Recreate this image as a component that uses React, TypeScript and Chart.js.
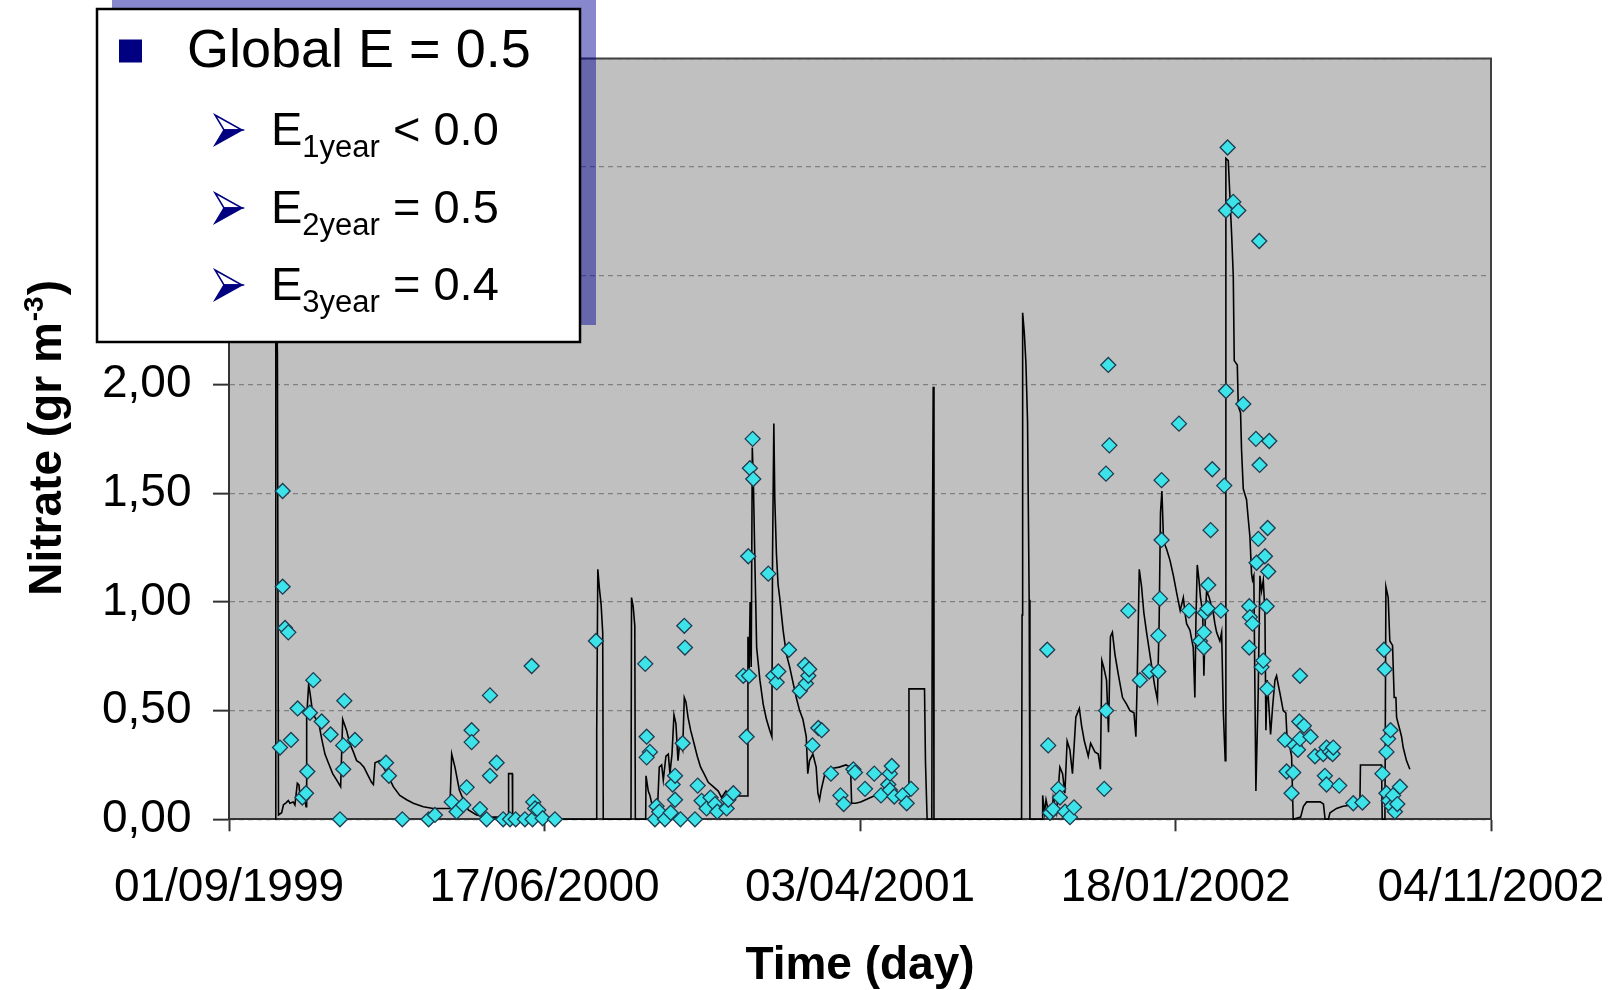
import React, { useEffect, useRef } from 'react';
import { Chart, registerables } from 'chart.js';

Chart.register(...registerables);

// ---------- DATA ----------
// x = days since 01/09/1999, ticks every 290 days
const xTickLabels = ['01/09/1999', '17/06/2000', '03/04/2001', '18/01/2002', '04/11/2002'];

// simulated nitrate (line)
const simDays = [
  42.5, 43, 44.5, 45.5, 48.4, 50, 52.4, 54.5, 56, 59, 60.6, 62.8, 64.3, 65.3, 66.8, 68.3, 70.8, 71.4, 73.2, 74.5,
  76.9, 80, 83, 85.2, 88.2, 91.3, 95.3, 99, 102.6, 104.5, 108, 111, 114.3, 117.3, 120.4, 124, 128, 131, 132.7, 134.2,
  138.8, 141.8, 146.4, 151, 157, 163.3, 169.4, 178.6, 187.8, 203, 204.7, 207.7, 211.7, 215.4, 220, 227.6, 236.8, 256.5, 257, 260.4,
  260.7, 279.7, 289, 337.5, 338, 339, 340.5, 342, 343.5, 344, 369.5, 370, 371.5, 373, 373.5, 383, 383.3, 385.4, 386.9, 390,
  393.7, 395.5, 397.7, 399.2, 401.6, 403.8, 405.3, 407.2, 409, 410.8, 412.7, 414.5, 417, 418.5, 420, 421.9, 424.3, 427.4, 430.4, 433.5,
  436.6, 440.5, 445.1, 449.7, 452.8, 456.8, 461, 466.6, 476.5, 477, 478, 479, 480, 481, 482, 483.4, 485, 488, 491, 494,
  497, 499, 499.6, 500.8, 501.7, 503.2, 504.7, 506.2, 509.3, 512.3, 515.4, 518.4, 521.4, 524.5, 527.5, 530.6, 532, 533.6, 536.7, 539.7,
  541.3, 542.8, 544.3, 547.3, 550.4, 555, 561, 567, 571.3, 572.3, 576, 580.6, 585.2, 589.7, 594.3, 599, 603.5, 608, 615.7, 624.7,
  625, 639.3, 640.2, 641.7, 646, 646.5, 647.3, 648, 728.5, 729, 729.5, 731, 732.5, 734, 735.5, 736.2, 747.5, 747.9, 749.5, 751,
  753, 756, 757.6, 760.7, 763.7, 766.2, 768.3, 770.4, 772.9, 775.3, 778.4, 781.6, 783.7, 786.2, 789.8, 792, 795.9, 799, 801, 802.3,
  804, 806.6, 808.4, 810.2, 812, 814.3, 817.3, 821.3, 825, 828.1, 831.8, 833.6, 834.8, 836.7, 838.8, 840.9, 843.4, 845.8, 848.2, 851,
  853.4, 855, 856.2, 857.5, 859, 862, 865, 868.1, 871.1, 874.3, 877.2, 878.7, 880.2, 883.3, 886.3, 887.8, 888.8, 890, 891.6, 893,
  895, 896.1, 897.4, 898.6, 901, 903, 904.7, 906.2, 907.8, 910.8, 912.4, 913.9, 915.7, 916.3, 918.5, 921.6, 923.1, 924, 926.8, 927.7,
  929.8, 930.7, 932.3, 935.3, 936.9, 938.4, 939.9, 940.8, 942, 943.9, 946, 947.6, 949.1, 950.7, 952.2, 953.1, 954.3, 956.2, 957.4, 959.3,
  961.4, 962.9, 964.4, 966, 967.5, 969, 971.4, 972.7, 975.2, 976.7, 978.2, 985, 987.6, 990.6, 1003, 1006, 1007.5, 1010.5, 1012, 1015,
  1018, 1024, 1030.3, 1039.5, 1040, 1059.4, 1060, 1062.5, 1063.4, 1065.5, 1067, 1069.5, 1071, 1072.6, 1073.2, 1074.7, 1076.3, 1077.8, 1079.3, 1082.3,
  1085.4,
];
const simValues = [
  0, 2.6, 2.14, 0.02, 0.03, 0.066, 0.076, 0.086, 0.074, 0.08, 0.066, 0.166, 0.158, 0.104, 0.112, 0.135, 0.058, 0.47, 0.62, 0.58,
  0.49, 0.46, 0.43, 0.37, 0.3, 0.26, 0.21, 0.18, 0.15, 0.46, 0.41, 0.35, 0.31, 0.27, 0.26, 0.24, 0.2, 0.17, 0.16, 0.26,
  0.27, 0.24, 0.2, 0.15, 0.11, 0.09, 0.074, 0.058, 0.05, 0.05, 0.3, 0.24, 0.135, 0.09, 0.043, 0.02, 0.01, 0.01, 0.21, 0.21,
  0.01, 0.005, 0, 0, 0.4, 1.15, 1.06, 0.99, 0.86, 0, 0, 1.02, 0.98, 0.89, 0, 0, 0.2, 0.13, 0.11, 0.04,
  0.03, 0.24, 0.25, 0.18, 0.29, 0.3, 0.21, 0.3, 0.48, 0.44, 0.27, 0.36, 0.32, 0.56, 0.54, 0.47, 0.41, 0.35, 0.29, 0.24,
  0.21, 0.17, 0.15, 0.13, 0.1, 0.13, 0.11, 0.107, 0.107, 0.84, 0.65, 1.0, 0.7, 1.71, 1.55, 1.18, 0.79, 0.64, 0.53, 0.46,
  0.41, 0.38, 1.21, 1.82, 1.47, 1.22, 1.08, 1.02, 0.87, 0.76, 0.7, 0.63, 0.56, 0.5, 0.46, 0.38, 0.21, 0.27, 0.3, 0.24,
  0.12, 0.09, 0.135, 0.2, 0.23, 0.235, 0.24, 0.25, 0.24, 0.074, 0.074, 0.08, 0.09, 0.1, 0.11, 0.12, 0.127, 0.135, 0.12, 0.12,
  0.6, 0.6, 0.26, 0, 0, 1.21, 1.99, 0, 0, 0.94, 2.33, 2.24, 2.1, 1.83, 1.01, 0, 0, 0.11, 0.03, 0.09,
  0.04, 0.01, 0.1, 0.03, 0.24, 0.21, 0.12, 0.36, 0.32, 0.21, 0.47, 0.51, 0.43, 0.36, 0.29, 0.35, 0.31, 0.3, 0.23, 0.73,
  0.7, 0.64, 0.4, 0.84, 0.86, 0.76, 0.67, 0.56, 0.53, 0.5, 0.49, 0.38, 0.64, 1.15, 1.07, 0.95, 0.86, 0.78, 0.7, 0.61,
  0.55, 0.92, 1.41, 1.51, 1.28, 1.24, 1.19, 1.12, 1.04, 0.96, 1.02, 0.95, 0.9, 0.87, 0.79, 0.56, 0.92, 1.17, 1.1, 1.02,
  0.95, 0.66, 0.93, 1.05, 1.02, 0.98, 0.95, 0.9, 0.86, 0.82, 0.86, 0.5, 0.27, 3.04, 3.03, 2.69, 2.5, 2.11, 2.09, 1.9,
  1.87, 1.7, 1.52, 1.47, 1.38, 1.3, 1.13, 1.1, 1.12, 0.13, 0.58, 1.12, 1.05, 1.1, 0.95, 0.41, 0.64, 0.49, 0.39, 0.52,
  0.64, 0.66, 0.62, 0.58, 0.54, 0.5, 0.49, 0.36, 0.33, 0.29, 0, 0.01, 0.06, 0.08, 0.08, 0.07, 0, 0, 0.03, 0.04,
  0.05, 0.06, 0.065, 0.07, 0.25, 0.25, 0, 0, 1.07, 1.02, 0.82, 0.8, 0.56, 0.56, 0.47, 0.44, 0.41, 0.38, 0.33, 0.27,
  0.23,
];

// observed nitrate (diamonds)
const obsDays = [
  46.9, 49.3, 49.3, 51.5, 54.5, 57, 63.1, 67.4, 70.8, 72, 74.4, 77.5, 85.2, 93.4, 102, 105, 105, 106, 115.8, 144.3,
  147, 159.3, 183.5, 189.3, 204.7, 209.2, 215.4, 218.4, 223, 223, 230.7, 236.8, 239.9, 239.9, 246, 252, 258.3, 263.5, 272, 278.2,
  279, 279.7, 281.3, 284.3, 288.3, 299.6, 337.3,
  382.6, 383.9, 386.9, 383.9, 391.5, 393, 395.5, 400.7, 406, 407.8, 410, 410, 415, 417, 418.5, 419.1, 428.3, 430.8, 434.4, 439,
  442.6, 446.7, 448.8, 457.4, 459, 463.6, 472.7, 475.8, 478, 477.3, 478.8, 481.3, 481.9, 495.7, 500.3, 503.4, 504.9, 514.7, 524.7, 529.4,
  530.3, 532.5, 533.3, 536.3, 541.7, 544.8, 553.3, 562, 565, 573.9, 575.4, 584.6, 593.1, 599.3, 606, 607.5, 607.5, 609.2, 611.5, 619.2,
  622.9, 626.9,
  752.1, 753, 754.6, 757.6, 762.3, 763.8, 768.4, 773, 776.7, 804.5, 806.1, 806.2, 808.2, 809.2, 826.6, 837.3, 845.9, 854.2, 854.2, 855.7,
  857.2, 857.2, 873.2, 882.4, 892.5, 896.1, 896.1, 897, 899.5, 900.1, 902.3, 903.8, 911.7, 914.8, 916.4, 916.4, 917.9, 923.1, 927.7, 932.3,
  937.8, 937.8, 938.4, 940.8, 943.9, 944.5, 946.1, 947, 947.3, 949.1, 950.7, 952.2, 953.8, 954.3, 954.7, 955.2, 956.2, 970.6, 972.1, 976.7,
  978.2, 979.5, 982.6, 983.8, 984.4, 984.4, 988, 994.1, 998.2, 1005.8, 1007.3, 1008.8, 1008.8, 1012, 1014.4, 1015, 1020.5, 1033.4, 1041.8, 1060.2,
  1061.6, 1062.5, 1063.9, 1063.9, 1065.4, 1066, 1067.7, 1068.7, 1070, 1071.7, 1073.9, 1076.3,
];
const obsValues = [
  0.33, 1.51, 1.07, 0.88, 0.86, 0.365, 0.51, 0.1, 0.12, 0.22, 0.49, 0.64, 0.45, 0.39, 0, 0.34, 0.23, 0.545, 0.365, 0.26,
  0.2, 0, 0, 0.02, 0.08, 0.035, 0.066, 0.147, 0.41, 0.355, 0.047, 0, 0.57, 0.2, 0.26, 0, 0, 0, 0, 0.705,
  0, 0.08, 0.05, 0.043, 0.005, 0, 0.82,
  0.715, 0.38, 0.31, 0.285, 0, 0.06, 0.035, 0, 0.03, 0.16, 0.2, 0.09, 0, 0.35, 0.89, 0.79, 0, 0.155, 0.085, 0.05,
  0.1, 0.07, 0.035, 0.05, 0.09, 0.12, 0.66, 0.38, 0.66, 1.21, 1.615, 1.75, 1.565, 1.13, 0.66, 0.63, 0.68, 0.78, 0.59, 0.71,
  0.625, 0.66, 0.69, 0.34, 0.42, 0.41, 0.21, 0.11, 0.07, 0.23, 0.215, 0.14, 0.21, 0.11, 0.16, 0.21, 0.135, 0.245, 0.105, 0.11,
  0.074, 0.14,
  0.78, 0.34, 0.03, 0.046, 0.14, 0.1, 0.035, 0.01, 0.055, 0.14, 1.59, 0.5, 2.09, 1.72, 0.96, 0.64, 0.68, 0.68, 0.845, 1.015,
  1.285, 1.56, 1.82, 0.96, 0.82, 0.86, 0.79, 0.95, 0.97, 1.078, 1.33, 1.61, 0.96, 1.535, 1.97, 2.8, 3.09, 2.84, 2.8, 1.91,
  0.98, 0.79, 0.93, 0.9, 1.75, 1.18, 1.29, 2.66, 1.63, 0.7, 0.73, 1.21, 0.98, 0.6, 1.34, 1.14, 1.74, 0.365, 0.22, 0.12,
  0.215, 0.34, 0.32, 0.45, 0.37, 0.66, 0.43, 0.38, 0.29, 0.3, 0.2, 0.33, 0.16, 0.31, 0.3, 0.33, 0.155, 0.074, 0.077, 0.21,
  0.78, 0.69, 0.31, 0.12, 0.37, 0.085, 0.41, 0.06, 0.11, 0.035, 0.07, 0.15,
];

// text
const xTitle = 'Time (day)';
const yTitleMain = 'Nitrate (gr m';
const yTitleSup = '-3';
const yTitleEnd = ')';
const boxHeadline = 'Global E = 0.5';
const boxSubscripts = ['1year', '2year', '3year'];
const boxValues = [' < 0.0', ' = 0.5', ' = 0.4'];

const FONT = "'Liberation Sans', Arial, sans-serif";

export default function App() {
  const ref = useRef<HTMLCanvasElement | null>(null);

  useEffect(() => {
    const canvas = ref.current;
    if (!canvas) return;

    const decor = {
      id: 'decor',
      beforeDraw(chart: any) {
        const { ctx, chartArea: a } = chart;
        ctx.save();
        ctx.fillStyle = '#c0c0c0';
        ctx.fillRect(a.left, a.top, a.right - a.left, a.bottom - a.top);
        ctx.restore();
      },
      beforeDatasetsDraw(chart: any) {
        const { ctx, chartArea: a } = chart;
        ctx.save();
        ctx.strokeStyle = '#404040';
        ctx.lineWidth = 2;
        ctx.beginPath();
        ctx.moveTo(a.left, a.top);
        ctx.lineTo(a.right, a.top);
        ctx.lineTo(a.right, a.bottom);
        ctx.stroke();
        ctx.restore();
      },
      afterDraw(chart: any) {
        const { ctx, chartArea: a } = chart;
        ctx.save();
        ctx.fillStyle = '#000';
        ctx.textBaseline = 'alphabetic';

        // x title
        ctx.font = `bold 46px ${FONT}`;
        ctx.textAlign = 'center';
        ctx.fillText(xTitle, (a.left + a.right) / 2, 979);

        // y title (rotated, with superscript)
        ctx.save();
        ctx.translate(44.8, (a.top + a.bottom) / 2);
        ctx.rotate(-Math.PI / 2);
        ctx.textAlign = 'left';
        ctx.font = `bold 46px ${FONT}`;
        const w1 = ctx.measureText(yTitleMain).width;
        const w3 = ctx.measureText(yTitleEnd).width;
        ctx.font = `bold 28px ${FONT}`;
        const w2 = ctx.measureText(yTitleSup).width;
        const x0 = -(w1 + w2 + w3) / 2;
        ctx.font = `bold 46px ${FONT}`;
        ctx.fillText(yTitleMain, x0, 16.5);
        ctx.fillText(yTitleEnd, x0 + w1 + w2 + 2, 16.5);
        ctx.font = `bold 28px ${FONT}`;
        ctx.fillText(yTitleSup, x0 + w1 + 1, -2.2);
        ctx.restore();

        // text box: shadow, box, border
        ctx.fillStyle = 'rgba(0,0,150,0.47)';
        ctx.fillRect(112, -10, 484, 335);
        ctx.fillStyle = '#ffffff';
        ctx.fillRect(97, 9, 483, 333);
        ctx.strokeStyle = '#000';
        ctx.lineWidth = 2.5;
        ctx.strokeRect(97, 9, 483, 333);

        // headline bullet + text
        ctx.fillStyle = '#000080';
        ctx.fillRect(119, 39.5, 23, 23);
        ctx.fillStyle = '#000';
        ctx.textAlign = 'left';
        ctx.font = `54px ${FONT}`;
        ctx.fillText(boxHeadline, 187, 66.7);

        const baselines = [145, 223, 300];
        baselines.forEach((b, i) => {
          // arrow bullet
          ctx.beginPath();
          ctx.moveTo(215, b - 30);
          ctx.lineTo(242, b - 15);
          ctx.lineTo(224, b - 15);
          ctx.closePath();
          ctx.fillStyle = '#ffffff';
          ctx.fill();
          ctx.strokeStyle = '#000080';
          ctx.lineWidth = 1.5;
          ctx.stroke();
          ctx.beginPath();
          ctx.moveTo(224, b - 15);
          ctx.lineTo(242, b - 15);
          ctx.lineTo(215, b);
          ctx.closePath();
          ctx.fillStyle = '#000080';
          ctx.fill();
          ctx.stroke();

          ctx.fillStyle = '#000';
          ctx.font = `47px ${FONT}`;
          let x = 271;
          ctx.fillText('E', x, b);
          x += ctx.measureText('E').width;
          ctx.font = `31px ${FONT}`;
          ctx.fillText(boxSubscripts[i], x, b + 12);
          x += ctx.measureText(boxSubscripts[i]).width;
          ctx.font = `47px ${FONT}`;
          ctx.fillText(boxValues[i], x, b);
        });
        ctx.restore();
      },
    };

    const chart = new Chart(canvas, {
      type: 'scatter',
      data: {
        datasets: [
          {
            label: 'Observed',
            data: obsDays.map((d, i) => ({ x: d, y: obsValues[i] })),
            pointStyle: 'rectRot',
            pointRadius: 7.5,
            backgroundColor: '#3ce3e8',
            borderColor: '#1e3b4f',
            borderWidth: 1.3,
            order: 0,
            clip: false,
          } as any,
          {
            label: 'Simulated',
            type: 'line',
            data: simDays.map((d, i) => ({ x: d, y: simValues[i] })),
            showLine: true,
            borderColor: '#000',
            borderWidth: 1.6,
            pointRadius: 0,
            fill: false,
            tension: 0,
            order: 1,
            clip: false,
          } as any,
        ],
      },
      options: {
        responsive: false,
        animation: false,
        devicePixelRatio: 1,
        events: [],
        layout: { padding: { top: 58.4, right: 123, left: 0, bottom: 0 } },
        plugins: { legend: { display: false }, tooltip: { enabled: false } },
        scales: {
          x: {
            type: 'linear',
            min: 0,
            max: 1160,
            afterFit: (s: any) => {
              s.height = 170.7;
              s.paddingLeft = 0;
              s.paddingRight = 0;
            },
            ticks: {
              stepSize: 290,
              autoSkip: false,
              maxRotation: 0,
              padding: 29,
              color: '#000',
              font: { family: FONT, size: 46 },
              callback: (_v: any, i: number) => xTickLabels[i] ?? '',
            },
            grid: {
              drawOnChartArea: false,
              drawTicks: true,
              tickLength: 12,
              tickColor: '#333',
              tickWidth: 2,
            },
            border: { display: true, color: '#333', width: 2 },
          },
          y: {
            type: 'linear',
            min: 0,
            max: 3.5,
            afterFit: (s: any) => {
              s.width = 229;
              s.paddingTop = 0;
              s.paddingBottom = 0;
            },
            ticks: {
              stepSize: 0.5,
              autoSkip: false,
              padding: 21.5,
              color: '#000',
              font: { family: FONT, size: 46 },
              callback: (v: any) => Number(v).toFixed(2).replace('.', ','),
            },
            grid: {
              color: '#808080',
              lineWidth: 1.3,
              tickLength: 16,
              tickColor: '#333',
              tickWidth: 2,
              tickBorderDash: [],
            },
            border: { display: true, color: '#333', width: 2, dash: [5, 4] },
          },
        },
      } as any,
      plugins: [decor],
    });

    return () => chart.destroy();
  }, []);

  return (
    <div style={{ position: 'fixed', left: 0, top: 0, width: 1614, height: 990, background: '#fff' }}>
      <canvas ref={ref} width={1614} height={990} style={{ display: 'block', width: 1614, height: 990 }} />
    </div>
  );
}
